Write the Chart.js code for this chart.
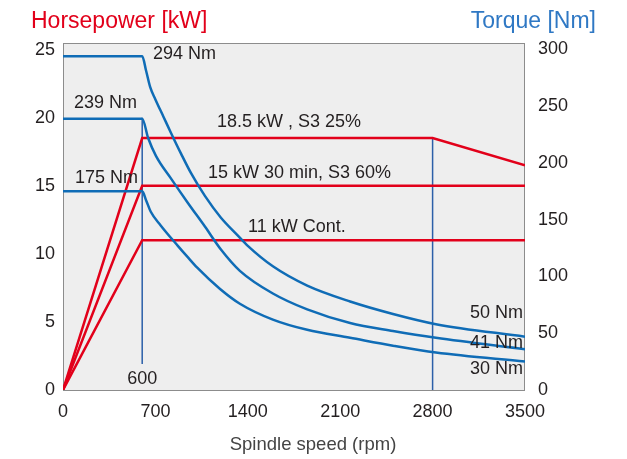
<!DOCTYPE html>
<html>
<head>
<meta charset="utf-8">
<script src="https://cdn.jsdelivr.net/npm/chart.js"></script>
<style>
  html, body { margin: 0; padding: 0; background: #fff; }
  #wrap { width: 627px; height: 459px; position: relative; }
</style>
</head>
<body>
<div id="wrap"><canvas id="chart" width="627" height="459"></canvas></div>
<script>
// axis ticks
const speedTicks = [0, 700, 1400, 2100, 2800, 3500]
const powerTicks = [0, 5, 10, 15, 20, 25]
const torqueTicks = [0, 50, 100, 150, 200, 250, 300]

// power curves (kW)
const p185Speed = [0, 600, 2800, 3500]
const p185Kw = [0, 18.5, 18.5, 16.5]
const p15Speed = [0, 600, 3500]
const p15Kw = [0, 15, 15]
const p11Speed = [0, 600, 3500]
const p11Kw = [0, 11, 11]

// torque curves (Nm)
const t294Speed = [0, 600, 630, 660, 700, 760, 820, 895, 970, 1075, 1195, 1325, 1400, 1590, 1850, 2175, 2500, 2825, 3500]
const t294Nm = [294, 294, 281, 267, 256, 241, 226, 208, 191, 171, 152, 136, 127, 109, 92, 78, 67, 58, 47]
const t239Speed = [0, 600, 645, 705, 820, 945, 1075, 1195, 1340, 1590, 1850, 2175, 2500, 2825, 3500]
const t239Nm = [239, 239, 222, 206, 186, 165, 144, 124, 105, 85, 71, 59, 52, 46, 36]
const t175Speed = [0, 600, 630, 665, 740, 870, 945, 1015, 1190, 1340, 1590, 1850, 2175, 2500, 2825, 3500]
const t175Nm = [175, 175, 167, 157, 145, 127, 117, 108, 89, 76, 62, 53, 46, 39, 33, 25]

// marker lines
const mark600Speed = [600, 600]
const mark600Kw = [20, 1.9]
const mark2800Speed = [2800, 2800]
const mark2800Kw = [18.5, 0]

// text labels [text, rpm, kW, align]
const notes = [
  ["294 Nm", 682, 24.7, "left"],
  ["239 Nm", 83, 21.1, "left"],
  ["175 Nm", 91, 15.6, "left"],
  ["18.5 kW , S3 25%", 1167, 19.7, "left"],
  ["15 kW 30 min, S3 60%", 1098, 15.9, "left"],
  ["11 kW Cont.", 1402, 12.0, "left"],
  ["50 Nm", 3485, 5.65, "right"],
  ["41 Nm", 3485, 3.45, "right"],
  ["30 Nm", 3485, 1.54, "right"],
  ["600", 600, 0.8, "center"],
]

const RED = "#e2001a"
const BLUE = "#0f6cb6"
const MARK = "#2b5fa8"
const FONT = "'Liberation Sans', Arial, sans-serif"

function pts(xs, ys) {
  return xs.map((x, i) => ({ x: x, y: ys[i] }))
}

function torqueSet(xs, ys) {
  return {
    data: pts(xs, ys), yAxisID: "yT", borderColor: BLUE, borderWidth: 2.5,
    pointRadius: 0, cubicInterpolationMode: "monotone", fill: false,
  }
}

function powerSet(xs, ys) {
  return {
    data: pts(xs, ys), yAxisID: "yP", borderColor: RED, borderWidth: 2.5,
    pointRadius: 0, tension: 0, fill: false,
  }
}

function markSet(xs, ys) {
  return {
    data: pts(xs, ys), yAxisID: "yP", borderColor: MARK, borderWidth: 1.5,
    pointRadius: 0, tension: 0, fill: false,
  }
}

const framePlugin = {
  id: "frame",
  beforeDatasetsDraw(chart) {
    const { ctx, chartArea: a } = chart
    ctx.save()
    ctx.fillStyle = "#eeeeee"
    ctx.fillRect(a.left, a.top, a.right - a.left, a.bottom - a.top)
    ctx.strokeStyle = "#8c8c8c"
    ctx.lineWidth = 1
    ctx.strokeRect(a.left + 0.5, a.top + 0.5, a.right - a.left - 1, a.bottom - a.top)
    ctx.restore()
  },
  afterDatasetsDraw(chart) {
    const { ctx } = chart
    const xs = chart.scales.x
    const ys = chart.scales.yP
    ctx.save()
    ctx.font = "18px " + FONT
    ctx.fillStyle = "#231f20"
    ctx.textBaseline = "middle"
    notes.forEach(([text, x, y, align]) => {
      ctx.textAlign = align
      ctx.fillText(text, xs.getPixelForValue(x), ys.getPixelForValue(y))
    })
    ctx.font = "23px " + FONT
    ctx.textAlign = "left"
    ctx.fillStyle = RED
    ctx.fillText("Horsepower [kW]", 31, 22)
    ctx.textAlign = "right"
    ctx.fillStyle = "#2f78c4"
    ctx.fillText("Torque [Nm]", 596, 22)
    // axis title
    ctx.font = "18.5px " + FONT
    ctx.textAlign = "center"
    ctx.fillStyle = "#444"
    ctx.fillText("Spindle speed (rpm)", 313, 445)
    ctx.restore()
  },
}

function fixTicks(values) {
  return (scale) => { scale.ticks = values.map((v) => ({ value: v })) }
}

const tickStyle = (pad) => ({
  padding: pad, color: "#231f20", font: { family: FONT, size: 18 },
  callback: (v) => String(v),
})

new Chart(document.getElementById("chart").getContext("2d"), {
  type: "line",
  data: {
    datasets: [
      torqueSet(t294Speed, t294Nm),
      torqueSet(t239Speed, t239Nm),
      torqueSet(t175Speed, t175Nm),
      powerSet(p185Speed, p185Kw),
      powerSet(p15Speed, p15Kw),
      powerSet(p11Speed, p11Kw),
      markSet(mark600Speed, mark600Kw),
      markSet(mark2800Speed, mark2800Kw),
    ],
  },
  options: {
    responsive: false,
    animation: false,
    layout: { padding: { top: 43, left: 0, right: 0, bottom: 0 } },
    plugins: { legend: { display: false }, tooltip: { enabled: false } },
    scales: {
      x: {
        type: "linear", min: 0, max: 3500,
        afterBuildTicks: fixTicks(speedTicks),
        afterFit: (s) => { s.height = 69 },
        grid: { display: false, drawTicks: false },
        border: { display: false },
        ticks: tickStyle(11),
      },
      yP: {
        type: "linear", position: "left", min: 0, max: 25.48,
        afterBuildTicks: fixTicks(powerTicks),
        afterFit: (s) => { s.width = 63 },
        grid: { display: false, drawTicks: false },
        border: { display: false },
        ticks: tickStyle(8),
      },
      yT: {
        type: "linear", position: "right", min: 0, max: 305.7,
        afterBuildTicks: fixTicks(torqueTicks),
        afterFit: (s) => { s.width = 102 },
        grid: { display: false, drawTicks: false },
        border: { display: false },
        ticks: tickStyle(13),
      },
    },
  },
  plugins: [framePlugin],
})
</script>
</body>
</html>
